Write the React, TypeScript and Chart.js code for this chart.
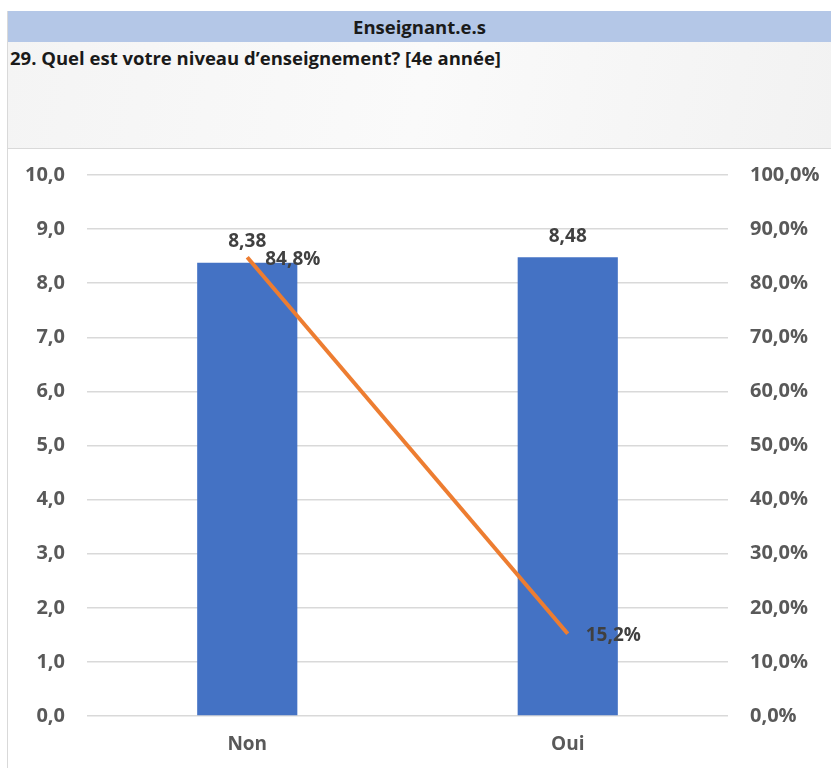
import React, { useEffect, useRef } from "react";
import { Chart, registerables } from "chart.js";

Chart.register(...registerables);

const categories = ["Non", "Oui"];
const meanScores = [8.38, 8.48];
const percentShares = [84.8, 15.2];
const headerTitle = "Enseignant.e.s";
const questionText = "29. Quel est votre niveau d\u2019enseignement? [4e année]";

const FONT = "'Open Sans', sans-serif";
const fmt = (v: number, d: number) => v.toFixed(d).replace(".", ",");

const labelPlugin = {
  id: "labels",
  afterDatasetsDraw(chart: any) {
    const ctx = chart.ctx;
    ctx.save();
    ctx.font = `bold 19px ${FONT}`;
    ctx.fillStyle = "#404040";
    const barMeta = chart.getDatasetMeta(0);
    barMeta.data.forEach((el: any, i: number) => {
      ctx.textAlign = "center";
      ctx.textBaseline = "middle";
      ctx.fillText(fmt(meanScores[i], 2), el.x, el.y - 21);
    });
    const lineMeta = chart.getDatasetMeta(1);
    lineMeta.data.forEach((el: any, i: number) => {
      ctx.textAlign = "left";
      ctx.textBaseline = "middle";
      ctx.fillText(fmt(percentShares[i], 1) + "%", el.x + 18, el.y + 2);
    });
    ctx.restore();
  },
};

export default function App() {
  const ref = useRef<HTMLCanvasElement>(null);
  useEffect(() => {
    const chart = new Chart(ref.current!, {
      type: "bar",
      data: {
        labels: categories,
        datasets: [
          {
            type: "bar",
            data: meanScores,
            backgroundColor: "#4472C4",
            yAxisID: "y",
            barPercentage: 0.625,
            categoryPercentage: 0.5,
            order: 2,
          },
          {
            type: "line",
            data: percentShares,
            borderColor: "#ED7D31",
            borderWidth: 4,
            pointRadius: 0,
            yAxisID: "y1",
            order: 1,
          } as any,
        ],
      },
      options: {
        animation: false,
        responsive: false,
        maintainAspectRatio: false,
        layout: { padding: { top: 0, left: 0, right: 0, bottom: 0 } },
        plugins: { legend: { display: false }, tooltip: { enabled: false } },
        scales: {
          x: {
            grid: { display: false, drawTicks: false },
            border: { display: false },
            ticks: { color: "#595959", font: { family: FONT, size: 19, weight: "bold" }, padding: 17 },
            afterFit: (s: any) => { s.height = 52; },
          },
          y: {
            position: "left",
            min: 0,
            max: 10,
            ticks: {
              stepSize: 1,
              color: "#595959",
              font: { family: FONT, size: 20, weight: "bold" },
              padding: 22,
              callback: (v: any) => fmt(Number(v), 1),
            },
            grid: { color: "#D9D9D9", lineWidth: 1.5, drawTicks: false },
            border: { display: false },
            afterFit: (s: any) => { s.width = 78; },
          },
          y1: {
            position: "right",
            min: 0,
            max: 100,
            ticks: {
              stepSize: 10,
              color: "#595959",
              font: { family: FONT, size: 20, weight: "bold" },
              padding: 22,
              callback: (v: any) => fmt(Number(v), 1) + "%",
            },
            grid: { drawOnChartArea: false, drawTicks: false },
            border: { display: false },
            afterFit: (s: any) => { s.width = 103; },
          },
        },
      } as any,
      plugins: [labelPlugin],
    });
    return () => chart.destroy();
  }, []);

  return (
    <div style={{ position: "absolute", left: 0, top: 0, width: 831, height: 768, background: "#FFFFFF", overflow: "hidden", fontFamily: FONT }}>
      <div style={{ position: "absolute", left: 7, top: 11, width: 824, height: 757, borderLeft: "1.5px solid #D9D9D9", boxSizing: "border-box" }} />
      <div style={{ position: "absolute", left: 8, top: 11, width: 823, height: 31, background: "#B4C7E7", display: "flex", alignItems: "center", justifyContent: "center", fontWeight: "bold", fontSize: 18.5, color: "#1a1a1a" }}>
        {headerTitle}
      </div>
      <div style={{ position: "absolute", left: 8, top: 42, width: 823, height: 106, background: "linear-gradient(100deg, #F4F4F4 0%, #FAFAFA 50%, #F2F2F2 100%)", borderBottom: "1.5px solid #D9D9D9" }}>
        <div style={{ position: "absolute", left: 2, top: 3, fontWeight: "bold", fontSize: 18.5, color: "#1a1a1a" }}>{questionText}</div>
      </div>
      <canvas ref={ref} width={822} height={627} style={{ position: "absolute", left: 9, top: 141, width: 822, height: 627 }} />
    </div>
  );
}
